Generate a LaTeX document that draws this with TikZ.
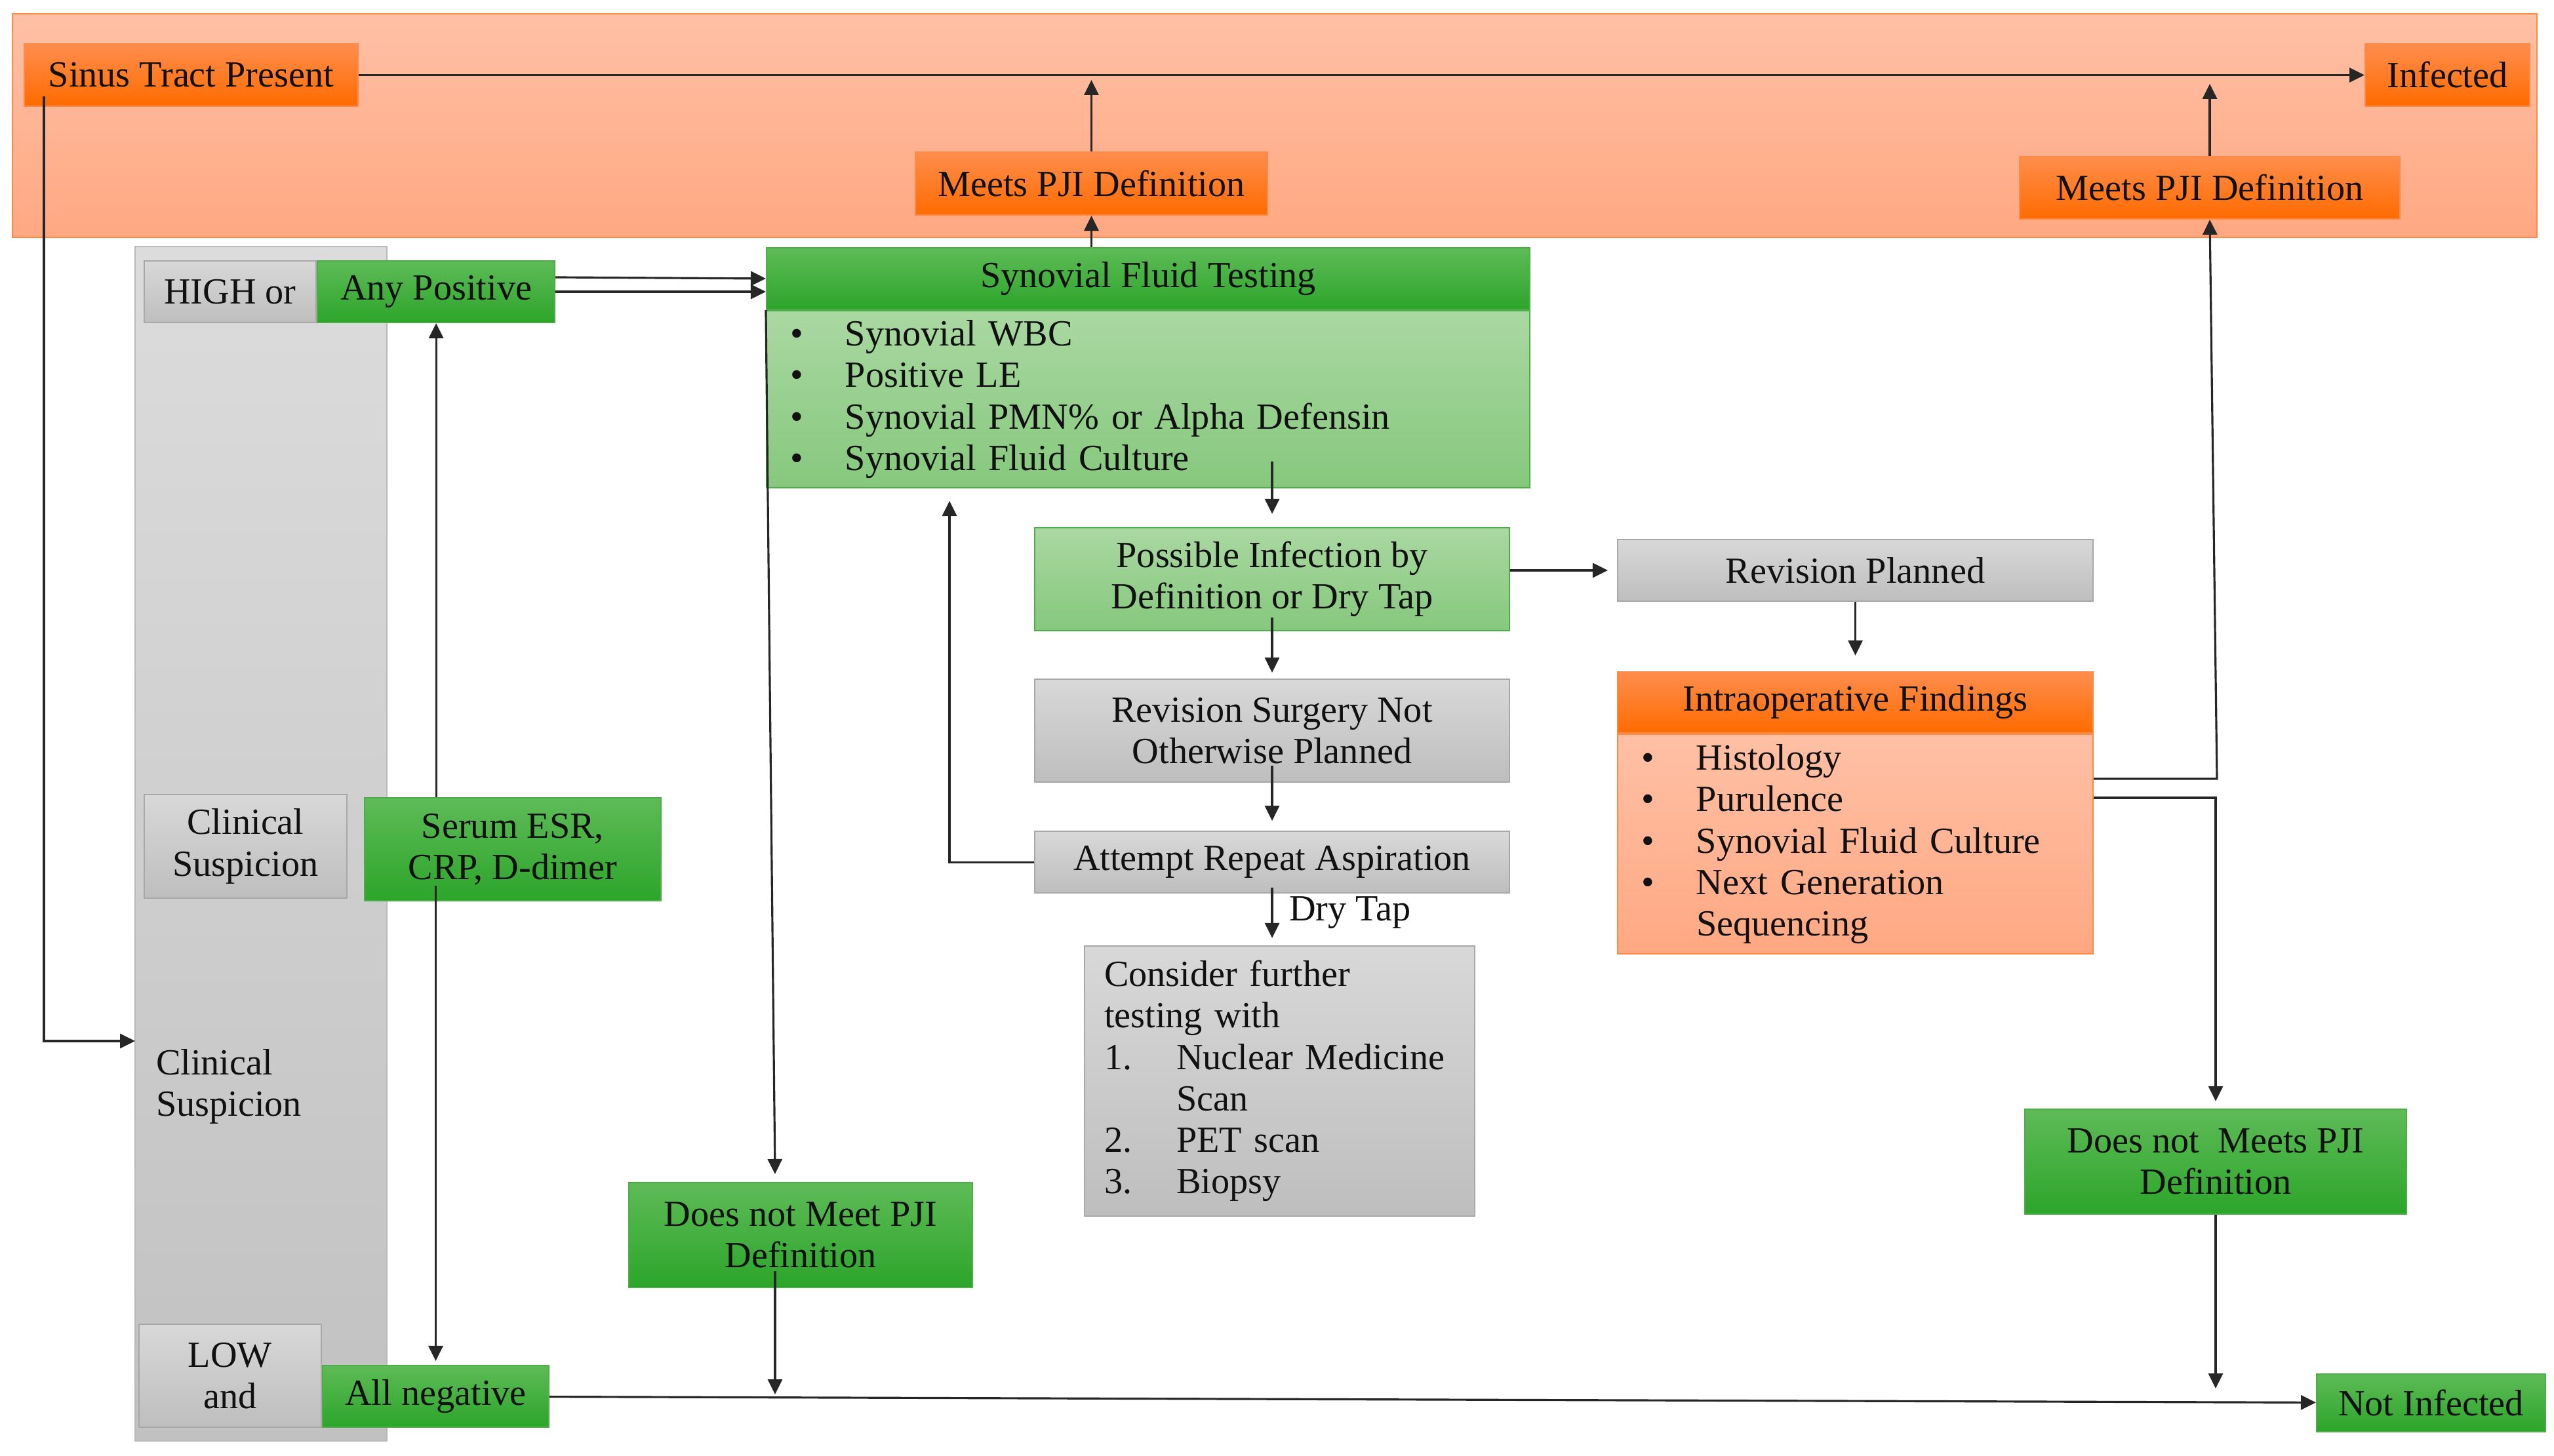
\documentclass[tikz,border=0pt]{standalone}
\usepackage{fontspec}
\setmainfont{Liberation Serif}
\usetikzlibrary{arrows.meta,positioning,calc}
\definecolor{Ink}{HTML}{111111}
\definecolor{Wire}{HTML}{262626}
\definecolor{GreenTop}{HTML}{5EBB57}
\definecolor{GreenBot}{HTML}{2CA52A}
\definecolor{GreenLine}{HTML}{4DAE47}
\definecolor{MintTop}{HTML}{AAD8A2}
\definecolor{MintBot}{HTML}{86C87D}
\definecolor{OrangeTop}{HTML}{FF8D4D}
\definecolor{OrangeBot}{HTML}{FF6B00}
\definecolor{OrangeLine}{HTML}{FF8A45}
\definecolor{PeachTop}{HTML}{FFC0A5}
\definecolor{PeachBot}{HTML}{FFA882}
\definecolor{GreyTop}{HTML}{D8D8D8}
\definecolor{GreyBot}{HTML}{BEBEBE}
\definecolor{GreyLine}{HTML}{A8A8A8}
\newcommand{\bul}[1]{\makebox[0.84cm][l]{\textbullet}#1}
\newcommand{\numitem}[2]{\makebox[1.10cm][l]{#1}#2}
\tikzset{
  base/.style={rectangle,align=center,font=\fontsize{16}{18}\selectfont,text=Ink,inner sep=0pt,line width=0.6pt},
  greenbox/.style={base,draw=GreenLine,top color=GreenTop,bottom color=GreenBot},
  mintbox/.style={base,draw=GreenLine,top color=MintTop,bottom color=MintBot},
  orangebox/.style={base,draw=OrangeLine,top color=OrangeTop,bottom color=OrangeBot},
  peachbox/.style={base,draw=OrangeLine,top color=PeachTop,bottom color=PeachBot},
  greybox/.style={base,draw=GreyLine,top color=GreyTop,bottom color=GreyBot},
  band/.style={rectangle,draw=OrangeLine,line width=0.8pt,top color=PeachTop,bottom color=PeachBot,inner sep=0pt},
  column/.style={rectangle,draw=GreyLine!80,line width=0.6pt,top color=GreyTop!90,bottom color=GreyBot!95,inner sep=0pt},
  arr/.style={-{Triangle[length=0.23cm,width=0.22cm]},draw=Wire,line width=0.9pt},
  lbl/.style={base,right,inner xsep=0.25cm}
}
\begin{document}
\begin{tikzpicture}[node distance=0.72cm and 0.5cm]
  \useasboundingbox (0,0) rectangle (38.95,22.2);
  \node[band,minimum width=38.50cm,minimum height=3.41cm] (infBand) at (19.44,20.285) {};
  \node[column,minimum width=3.84cm,minimum height=18.22cm] (clinCol) at (3.98,9.33) {};

  \node[orangebox,minimum width=5.09cm,minimum height=0.95cm] (sinus) at (2.915,21.055) {Sinus Tract Present};
  \node[orangebox,minimum width=2.51cm,minimum height=0.95cm] (infected) at (37.325,21.055) {Infected};
  \node[orangebox,minimum width=5.37cm,minimum height=0.96cm] (meetsL) at (16.645,19.40) {Meets PJI Definition};
  \node[orangebox,minimum width=5.80cm,minimum height=0.95cm] (meetsR) at (33.70,19.335) {Meets PJI Definition};

  \node[greybox,minimum width=2.62cm,minimum height=0.94cm] (high) at (3.51,17.75) {HIGH or};
  \node[greenbox,minimum width=3.62cm,minimum height=0.94cm,right=0pt of high] (anyPos) {Any Positive};
  \node[greybox,minimum width=3.09cm,minimum height=1.58cm] (clinSus) at (3.745,9.29) {Clinical\\Suspicion};
  \node[greenbox,minimum width=4.52cm,minimum height=1.57cm] (serum) at (7.82,9.245) {Serum ESR,\\CRP, D-dimer};
  \node[base,anchor=west,align=left] (clinMid) at (2.37,5.625) {Clinical\\Suspicion};
  \node[greybox,minimum width=2.78cm,minimum height=1.57cm] (low) at (3.51,1.215) {LOW\\and};
  \node[greenbox,minimum width=3.45cm,minimum height=0.94cm] (allNeg) at (6.645,0.90) {All negative};

  \node[greenbox,minimum width=11.64cm,minimum height=0.94cm] (sfTest) at (17.51,17.95) {Synovial Fluid Testing};
  \node[mintbox,minimum width=11.64cm,minimum height=2.70cm,text width=10.92cm,align=left,below=0pt of sfTest] (sfList)
    {\bul{Synovial WBC}\\\bul{Positive LE}\\\bul{Synovial PMN\% or Alpha Defensin}\\\bul{Synovial Fluid Culture}};
  \node[greenbox,minimum width=5.24cm,minimum height=1.60cm] (notMeetsL) at (12.21,3.36) {Does not Meet PJI\\Definition};

  \node[mintbox,minimum width=7.24cm,minimum height=1.57cm] (possible) at (19.40,13.365) {Possible Infection by\\Definition or Dry Tap};
  \node[greybox,minimum width=7.24cm,minimum height=1.57cm,below=of possible] (notPlanned) {Revision Surgery Not\\Otherwise Planned};
  \node[greybox,minimum width=7.24cm,minimum height=0.94cm,below=0.73cm of notPlanned] (repeat) {Attempt Repeat Aspiration};
  \node[greybox,minimum width=5.95cm,minimum height=4.12cm,text width=5.35cm,align=left] (further) at (19.515,5.71)
    {Consider further\\testing with\\\numitem{1.}{Nuclear Medicine}\\\hspace*{1.10cm}Scan\\\numitem{2.}{PET scan}\\\numitem{3.}{Biopsy}};

  \node[greybox,minimum width=7.25cm,minimum height=0.94cm] (planned) at (28.295,13.50) {Revision Planned};
  \node[orangebox,minimum width=7.25cm,minimum height=0.93cm] (intraop) at (28.295,11.485) {Intraoperative Findings};
  \node[peachbox,minimum width=7.25cm,minimum height=3.35cm,text width=6.53cm,align=left,below=0pt of intraop] (intraList)
    {\bul{Histology}\\\bul{Purulence}\\\bul{Synovial Fluid Culture}\\\bul{Next Generation}\\\hspace*{0.84cm}Sequencing};
  \node[greenbox,minimum width=5.82cm,minimum height=1.60cm] (notMeetsR) at (33.79,4.48) {Does not\ \ Meets PJI\\Definition};
  \node[greenbox,minimum width=3.49cm,minimum height=0.88cm] (notInfected) at (37.075,0.80) {Not Infected};

  \coordinate (upL) at (16.645,20.98);
  \coordinate (upR) at (33.70,20.92);
  \coordinate (colIn) at (2.06,6.32);
  \coordinate (dlx) at (11.82,0);
  \coordinate (backX) at (14.48,0);
  \coordinate (ifUp) at (33.81,10.32);
  \coordinate (ifDown) at (33.79,10.03);

  \draw[arr] (sinus) -- (infected);
  \draw[arr] (meetsL.north) -- (upL);
  \draw[arr] (meetsR.north) -- (upR);
  \draw[arr] (meetsL.south |- sfTest.north) -- (meetsL.south);
  \draw[arr] ([xshift=0.31cm,yshift=0.16cm]sinus.south west) |- (colIn);
  \draw[arr] ([yshift=0.22cm]anyPos.east) -- (sfTest.west);
  \draw[arr] (anyPos.east) -- (anyPos.east -| sfTest.west);
  \draw[arr] (anyPos.south |- serum.north) -- (anyPos.south);
  \draw[arr] ([yshift=0.24cm]allNeg.north |- serum.south) -- ([yshift=0.06cm]allNeg.north);
  \draw[arr] (sfTest.south west) -- ([yshift=0.12cm]dlx |- notMeetsL.north);
  \draw[arr] ([yshift=0.26cm]dlx |- notMeetsL.south) -- ([yshift=0.03cm]dlx |- allNeg.east);
  \draw[arr] (allNeg) -- (notInfected);
  \draw[arr] ([yshift=0.41cm]possible.north |- sfList.south) -- ([yshift=0.2cm]possible.north);
  \draw[arr] ([yshift=0.21cm]possible.south) -- ([yshift=0.09cm]notPlanned.north);
  \draw[arr] ([yshift=0.26cm]notPlanned.south) -- ([yshift=0.15cm]repeat.north);
  \draw[arr] (repeat.west) -| ([yshift=-0.19cm]backX |- sfList.south);
  \draw[arr] ([yshift=0.09cm]repeat.south) -- node[lbl] (dryTap) {Dry Tap} ([yshift=0.11cm]repeat.south |- further.north);
  \draw[arr,shorten >=0.14cm] (possible.east |- planned.west) -- (planned.west);
  \draw[arr,shorten >=0.24cm] (planned) -- (intraop);
  \draw[arr] (ifUp -| intraList.east) -- (ifUp) -- (meetsR.south);
  \draw[arr] (ifDown -| intraList.east) -- (ifDown) -- ([yshift=0.11cm]notMeetsR.north);
  \draw[arr] (notMeetsR.south) -- ([yshift=0.22cm]notMeetsR.south |- notInfected.west);
\end{tikzpicture}
\end{document}
